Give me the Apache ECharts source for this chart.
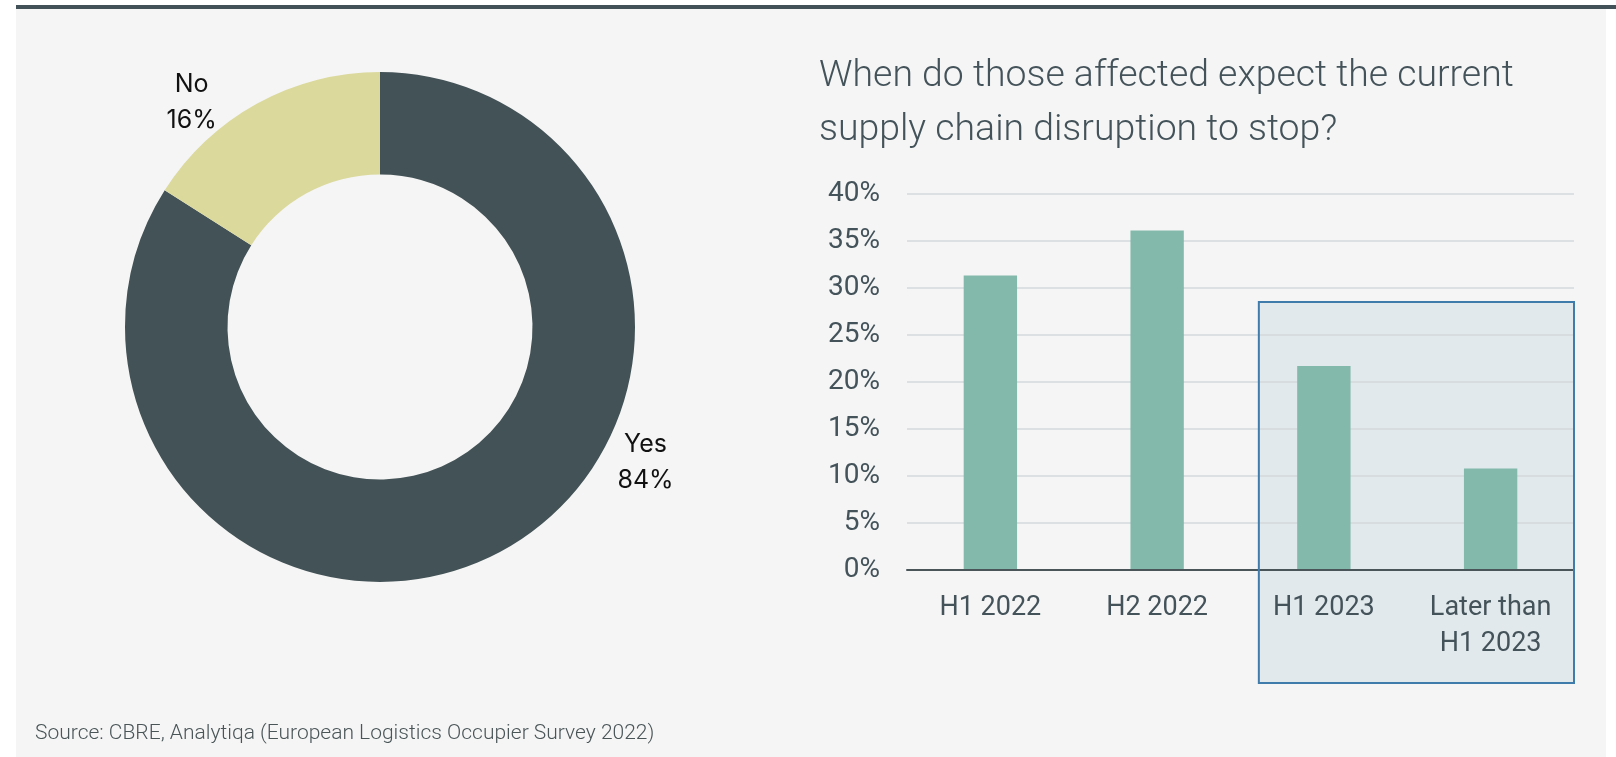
<!DOCTYPE html>
<html>
<head>
<meta charset="utf-8">
<script src="https://cdn.jsdelivr.net/npm/echarts@6/dist/echarts.min.js"></script>
<style>
  html, body { margin: 0; padding: 0; background: #ffffff; }
  #chart { width: 1616px; height: 757px; }
</style>
</head>
<body>
<div id="chart"></div>
<script>
// Survey answers: affected by supply chain disruption?
const pieNames = ['Yes', 'No'];
const pieValues = [84, 16];

// Expected end of the disruption (share of affected respondents, %)
const categories = ['H1 2022', 'H2 2022', 'H1 2023', 'Later than\nH1 2023'];
const barValues = [31.3, 36.1, 21.7, 10.8];

// Value axis
const yMin = 0;
const yMax = 40;
const yStep = 5;

const titleText = 'When do those affected expect the current\nsupply chain disruption to stop?';
const sourceText = 'Source: CBRE, Analytiqa (European Logistics Occupier Survey 2022)';

// Highlighted period: later categories, framed up to this value
const highlightFrom = 2;
const highlightTop = 28.5;

const ink = '#44535a';
const pieColors = ['#435256', '#dbd99c'];
const pieCenter = [380, 327];
// where each donut label sits (degrees, distance from centre)
const labelPolar = [[-27, 298], [130, 293]];

const chart = echarts.init(document.getElementById('chart'), null, { renderer: 'canvas' });

const option = {
  backgroundColor: '#ffffff',
  animation: false,
  title: {
    text: titleText,
    left: 814,
    top: 45,
    textStyle: {
      fontFamily: 'Roboto',
      fontWeight: 300,
      fontSize: 37.4,
      lineHeight: 54,
      color: ink
    }
  },
  grid: {
    left: 907,
    right: 42,
    top: 193.8,
    bottom: 187,
    containLabel: false
  },
  xAxis: {
    type: 'category',
    data: categories,
    axisTick: { show: false },
    axisLine: { show: true, lineStyle: { color: '#4a5559', width: 2 } },
    axisLabel: {
      margin: 20,
      fontFamily: 'Roboto',
      fontSize: 27,
      lineHeight: 36,
      color: ink,
      interval: 0
    },
    z: 3
  },
  yAxis: {
    type: 'value',
    min: yMin,
    max: yMax,
    interval: yStep,
    axisLine: { show: false },
    axisTick: { show: false },
    splitLine: { lineStyle: { color: '#d3d9db', width: 1.5 } },
    axisLabel: {
      formatter: '{value}%',
      margin: 27,
      fontFamily: 'Roboto',
      fontSize: 28,
      color: ink
    }
  },
  series: [
    {
      type: 'bar',
      data: barValues,
      barWidth: '32%',
      itemStyle: { color: '#82b9ab' },
      z: 2
    },
    {
      type: 'pie',
      center: pieCenter,
      radius: [152.5, 255],
      startAngle: 90,
      clockwise: true,
      avoidLabelOverlap: false,
      data: pieNames.map((n, i) => ({
        name: n,
        value: pieValues[i],
        itemStyle: { color: pieColors[i] }
      })),
      label: {
        show: true,
        position: 'outside',
        formatter: '{b}\n{d}%',
        fontFamily: 'Inter',
        fontSize: 25,
        lineHeight: 36,
        color: '#111111',
        align: 'center'
      },
      labelLine: { show: false },
      labelLayout: function (p) {
        const a = labelPolar[p.dataIndex][0] * Math.PI / 180;
        const d = labelPolar[p.dataIndex][1];
        return {
          x: pieCenter[0] + d * Math.cos(a),
          y: pieCenter[1] - d * Math.sin(a),
          align: 'center',
          verticalAlign: 'middle'
        };
      },
      emphasis: { disabled: true }
    }
  ],
  graphic: [
    { type: 'rect', z: -10, shape: { x: 16, y: 9, width: 1590, height: 760 }, style: { fill: '#f5f5f5' } },
    { type: 'rect', z: -9, shape: { x: 16, y: 5, width: 1600, height: 4 }, style: { fill: '#425157' } },
    {
      type: 'text',
      left: 35,
      top: 723,
      style: {
        text: sourceText,
        fontFamily: 'Roboto',
        fontWeight: 300,
        fontSize: 21,
        fill: '#4a5558'
      }
    }
  ]
};

chart.setOption(option);

// Frame around the later periods, placed from the axis scales
function drawHighlight() {
  const xA = chart.convertToPixel({ xAxisIndex: 0 }, highlightFrom);
  const xB = chart.convertToPixel({ xAxisIndex: 0 }, highlightFrom - 1);
  const band = xA - xB;
  const yTop = chart.convertToPixel({ yAxisIndex: 0 }, highlightTop);
  const y0 = chart.convertToPixel({ yAxisIndex: 0 }, yMin);
  const xRight = chart.convertToPixel({ xAxisIndex: 0 }, categories.length - 1) + band / 2;
  const left = xA - band * 0.39;
  const bottom = y0 + 113;
  chart.setOption({
    graphic: [
      { id: 'hlFill', type: 'rect', z: -5, shape: { x: left, y: yTop, width: xRight - left, height: bottom - yTop }, style: { fill: '#e1e9ec' } },
      { id: 'hlEdge', type: 'rect', z: 5, shape: { x: left, y: yTop, width: xRight - left, height: bottom - yTop }, style: { fill: null, stroke: '#3f7bab', lineWidth: 2 } }
    ]
  });
}
drawHighlight();
</script>
</body>
</html>
